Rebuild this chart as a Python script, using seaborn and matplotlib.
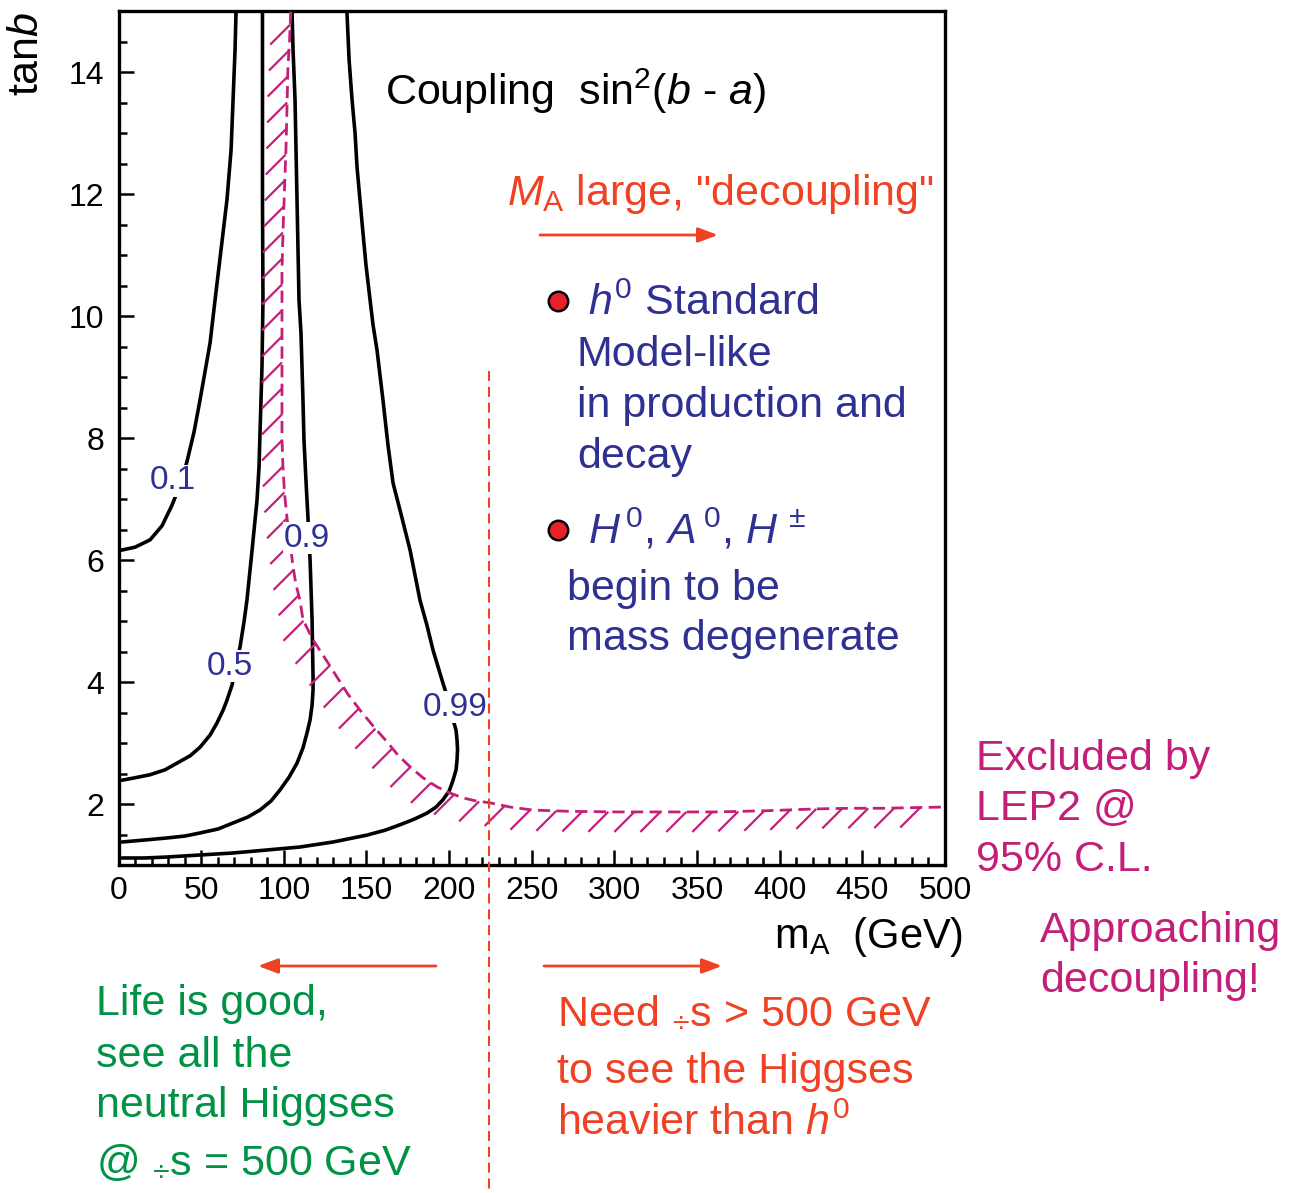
import numpy as np
import matplotlib
matplotlib.use("Agg")
import matplotlib.pyplot as plt
from matplotlib.patches import FancyArrowPatch
from matplotlib.ticker import MultipleLocator
import seaborn as sns

# contours of sin^2(beta - alpha) in the (m_A, tan beta) plane
c01_mA = [1.5, 10.0, 19.1, 26.3, 32.4, 37.2, 41.4, 45.7, 49.3, 52.3, 55.4, 58.4, 62.0,
          65.6, 68.1, 69.3, 70.5, 71.1]
c01_tb = [6.16, 6.21, 6.33, 6.56, 6.90, 7.23, 7.61, 8.10, 8.62, 9.08, 9.56, 10.26, 11.08,
          11.90, 12.72, 13.54, 14.36, 14.98]

c05_mA = [2.1, 10.0, 19.1, 28.1, 35.4, 43.3, 49.3, 55.4, 59.6, 63.3, 65.6, 68.7, 71.1,
          73.5, 75.9, 77.7, 80.8, 83.8, 85.0, 85.6, 86.8, 87.4, 87.1, 87.1]
c05_tb = [2.39, 2.43, 2.48, 2.56, 2.67, 2.79, 2.93, 3.13, 3.33, 3.54, 3.70, 3.95, 4.28,
          4.57, 4.98, 5.34, 6.16, 6.98, 7.52, 8.08, 9.16, 10.26, 11.90, 14.98]

c09_mA = [2.1, 16.0, 29.3, 40.2, 49.3, 60.2, 69.3, 78.3, 85.6, 92.3, 97.7, 103.2, 108.0,
          111.6, 114.0, 115.9, 117.1, 117.7, 117.7, 117.4, 117.1, 116.5, 115.9, 114.6,
          113.4, 112.2, 111.6, 110.4, 109.2, 108.6, 108.0, 107.4, 106.8, 105.6, 105.0]
c09_tb = [1.377, 1.41, 1.443, 1.475, 1.525, 1.59, 1.689, 1.787, 1.902, 2.05, 2.23, 2.44, 2.67,
          2.92, 3.16, 3.38, 3.62, 3.87, 4.07, 4.52, 5.02, 5.51, 6.00, 6.70,
          7.31, 7.97, 8.62, 9.72, 10.26, 11.08, 11.90, 12.72, 13.54, 14.36, 14.98]

c099_mA = [2.1, 16.0, 29.3, 49.3, 69.3, 89.8, 109.8, 129.8, 150.3, 161.2, 170.3, 178.8,
           186.6, 192.1, 196.3, 200.0, 202.4, 204.2, 204.8, 205.1, 204.8, 204.2, 202.4,
           200.0, 196.3, 193.3, 190.3, 186.6, 182.4, 179.4, 176.4, 171.5, 166.1, 163.0,
           160.0, 158.2, 156.4, 154.0, 152.2, 149.7, 147.9, 146.1, 144.3, 143.1, 141.3,
           139.5, 138.2]
c099_tb = [1.115, 1.115, 1.131, 1.164, 1.197, 1.246, 1.295, 1.377, 1.49, 1.57, 1.66, 1.75,
           1.85, 1.95, 2.07, 2.21, 2.39, 2.56, 2.72, 2.89, 3.05, 3.21, 3.38,
           3.66, 3.98, 4.25, 4.52, 4.93, 5.34, 5.75, 6.16, 6.69, 7.26, 7.89,
           8.62, 9.03, 9.44, 9.85, 10.26, 10.84, 11.36, 11.90, 12.44, 13.0, 13.54,
           14.20, 14.98]

# LEP2 95% C.L. exclusion boundary
lep_mA = [104.2, 103.5, 102.5, 101.9, 101.3, 100.4, 99.5, 98.9, 98.9, 98.9, 98.9, 98.9,
          99.5, 100.4, 101.9, 103.8, 105.6, 107.4, 109.8, 111.6, 117.7, 124.9, 132.2,
          138.8, 146.1, 154.0, 162.4, 169.1, 176.4, 184.2, 192.7, 200.5, 208.4, 216.3,
          224.7, 236.9, 250.8, 273.2, 301.6, 331.8, 362.1, 392.3, 422.6, 442.5, 462.5, 498.8]
lep_tb = [14.99, 14.52, 14.08, 13.38, 12.72, 12.07, 11.36, 10.75, 10.26, 9.44, 8.62, 7.97,
          7.52, 7.11, 6.70, 6.28, 5.89, 5.59, 5.34, 5.02, 4.69, 4.39, 4.08,
          3.80, 3.54, 3.28, 3.02, 2.80, 2.61, 2.43, 2.28, 2.18, 2.10, 2.05,
          2.02, 1.95, 1.90, 1.88, 1.87, 1.87, 1.87, 1.89, 1.92, 1.93, 1.93, 1.95]

contour_labels = ["0.1", "0.5", "0.9", "0.99"]
mA_reach = 224  # m_A reachable at sqrt(s) = 500 GeV

W, H = 1299, 1193
BLUE = "#2e3192"
MAGENTA = "#c41e78"
RED = "#ef4123"
GREEN = "#009245"
FS = 31

sns.set_theme(style="ticks")
plt.rcParams["font.family"] = ["Liberation Sans", "DejaVu Sans"]
plt.rcParams["mathtext.fontset"] = "custom"
plt.rcParams["mathtext.rm"] = "Liberation Sans"
plt.rcParams["mathtext.it"] = "Liberation Sans:italic"
plt.rcParams["mathtext.sf"] = "Liberation Sans"

fig = plt.figure(figsize=(W / 100, H / 100), dpi=100)
ax = fig.add_axes([118.5 / W, 1 - 865 / H, (945 - 118.5) / W, (865 - 11) / H])


def fx(px):
    return px / W


def fy(py):
    return 1 - py / H


def ftext(px, py, s, **kw):
    kw.setdefault("fontsize", FS)
    kw.setdefault("va", "baseline")
    fig.text(fx(px), fy(py), s, **kw)


# contours
for xs, ys in [(c01_mA, c01_tb), (c05_mA, c05_tb), (c09_mA, c09_tb), (c099_mA, c099_tb)]:
    sns.lineplot(x=xs, y=ys, sort=False, estimator=None, color="black",
                 linewidth=2.6, ax=ax, zorder=3)

# exclusion boundary (dashed) and its hatching
sns.lineplot(x=lep_mA, y=lep_tb, sort=False, estimator=None, color=MAGENTA,
             linewidth=2.0, linestyle=(0, (4.4, 2.3)), ax=ax, zorder=4)

ax.set_xlim(0, 500)
ax.set_ylim(1, 15)

pts = ax.transData.transform(np.column_stack([lep_mA, lep_tb]))
arc = np.concatenate([[0], np.cumsum(np.hypot(*np.diff(pts, axis=0).T))])
s_hatch = np.arange(13, arc[-1] - 15, 26.0)
hx = np.interp(s_hatch, arc, pts[:, 0])
hy = np.interp(s_hatch, arc, pts[:, 1])
inv = ax.transData.inverted()
segx, segy = [], []
for x0, y0 in zip(hx, hy):
    a = inv.transform((x0, y0))
    b = inv.transform((x0 - 20, y0 - 20))
    segx += [a[0], b[0], np.nan]
    segy += [a[1], b[1], np.nan]
ax.plot(segx, segy, color=MAGENTA, linewidth=1.6, zorder=4, solid_capstyle="butt")

# contour labels
label_pos = [(33.0, 7.30), (67.1, 4.26), (114.1, 6.36), (203.6, 3.59)]
for lab, (lx, ly) in zip(contour_labels, label_pos):
    ax.text(lx, ly, lab, color=BLUE, fontsize=24, ha="center", va="center", zorder=5,
            bbox=dict(facecolor="white", edgecolor="none", pad=0.5))

# sqrt(s) = 500 GeV reach
ax.plot([mA_reach, mA_reach], [9.1, -4.5], color=RED, linewidth=1.5,
        linestyle=(0, (4.8, 2.8)), clip_on=False, zorder=6)

# axes styling
ax.xaxis.set_major_locator(MultipleLocator(50))
ax.xaxis.set_minor_locator(MultipleLocator(10))
ax.yaxis.set_major_locator(MultipleLocator(2))
ax.yaxis.set_minor_locator(MultipleLocator(0.5))
ax.set_yticks([2, 4, 6, 8, 10, 12, 14])
ax.tick_params(which="both", direction="in", color="black", width=1.8,
               top=False, right=False, labelsize=23, labelcolor="black")
ax.tick_params(which="major", length=11)
ax.tick_params(which="minor", length=6)
ax.tick_params(axis="x", pad=8)
ax.tick_params(axis="y", pad=10)
for sp in ax.spines.values():
    sp.set_linewidth(2.4)
    sp.set_color("black")
ax.set_xlabel("")
ax.set_ylabel("")
ax.grid(False)

# axis titles
ftext(963, 948, r"m$_\mathrm{A}$  (GeV)", ha="right", color="black", fontsize=30)
fig.text(fx(27), fy(12), r"tan$\mathit{b}$", rotation=90, ha="center", va="top",
         fontsize=FS, color="black")

# annotations inside the plot
ftext(385, 105, r"Coupling  sin$^2$($\mathit{b}$ - $\mathit{a}$)", color="black")
ftext(507, 205, r'$\mathit{M}_\mathrm{A}$ large, "decoupling"', color=RED)

for py in (301, 530):
    ax.plot([fx(557.5)], [fy(py)], marker="o", markersize=14, markerfacecolor="#e8202a",
            markeredgecolor="black", markeredgewidth=1.8, transform=fig.transFigure,
            clip_on=False, zorder=7)

ftext(588, 315, r"$\mathit{h}^0$ Standard", color=BLUE)
ftext(577, 366, "Model-like", color=BLUE)
ftext(577, 417, "in production and", color=BLUE)
ftext(577, 468, "decay", color=BLUE)
ftext(588, 543, r"$\mathit{H}^{\,0}$, $\mathit{A}^{\,0}$, $\mathit{H}^{\,\pm}$", color=BLUE)
ftext(567, 600, "begin to be", color=BLUE)
ftext(567, 650, "mass degenerate", color=BLUE)

# right-hand notes
ftext(976, 770, "Excluded by", color=MAGENTA)
ftext(976, 820, "LEP2 @", color=MAGENTA)
ftext(976, 871, "95% C.L.", color=MAGENTA)
ftext(1040, 942, "Approaching", color=MAGENTA)
ftext(1040, 992, "decoupling!", color=MAGENTA)

# bottom notes
ftext(96, 1015, "Life is good,", color=GREEN)
ftext(96, 1067, "see all the", color=GREEN)
ftext(96, 1117, "neutral Higgses", color=GREEN)
ftext(96, 1175, r"@ $_{\div}$s = 500 GeV", color=GREEN)

ftext(557, 1023, r"Need $_{\div}$s > 500 GeV", color=RED)
ftext(557, 1083, "to see the Higgses", color=RED)
ftext(557, 1135, r"heavier than $\mathit{h}^0$", color=RED)

# arrows
for (x0, y0), (x1, y1) in [((540, 235), (718, 235)), ((436, 966), (258, 966)),
                           ((544, 966), (722, 966))]:
    fig.add_artist(FancyArrowPatch((fx(x0), fy(y0)), (fx(x1), fy(y1)),
                                   transform=fig.transFigure,
                                   arrowstyle="-|>,head_length=1.2,head_width=0.45",
                                   mutation_scale=10, linewidth=2.0, color=RED,
                                   shrinkA=0, shrinkB=0))

fig.savefig("out.png", dpi=100)
